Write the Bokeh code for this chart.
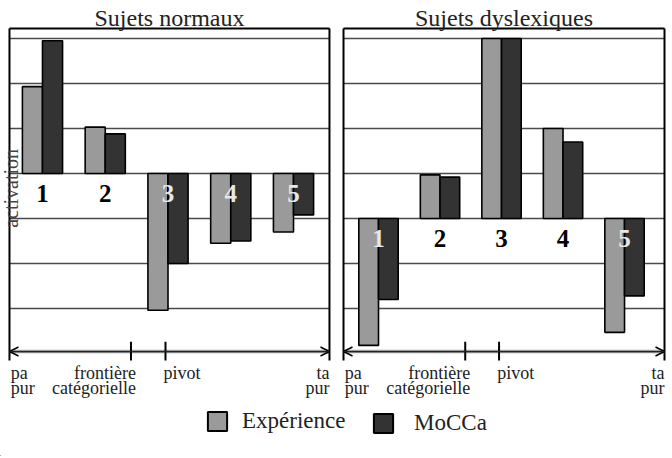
from bokeh.plotting import figure
from bokeh.models import Range1d, ColumnDataSource, Arrow, OpenHead, Legend, LegendItem
from bokeh.layouts import column, row
from bokeh.embed import file_html
from bokeh.resources import INLINE
from bokeh.core.properties import value

# Conditions along the pa -> ta continuum
conditions = [1, 2, 3, 4, 5]
condition_labels = ["1", "2", "3", "4", "5"]

# Activation per condition
normaux_experience = [1.93, 1.03, -3.04, -1.55, -1.30]
normaux_mocca = [2.95, 0.88, -2.00, -1.50, -0.92]
dyslexiques_experience = [-2.82, 0.97, 4.00, 2.00, -2.53]
dyslexiques_mocca = [-1.80, 0.92, 4.00, 1.70, -1.72]

titles = ["Sujets normaux", "Sujets dyslexiques"]
series_names = ["Expérience", "MoCCa"]
grid_normaux = [-3, -2, -1, 0, 1, 2, 3]
grid_dyslexiques = [-2, -1, 0, 1, 2, 3, 4]

# Landmarks on the continuum (in condition units)
frontiere_pos = 2.41
pivot_pos = 2.96
continuum_top = ["pa", "frontière", "pivot", "ta"]
continuum_bottom = ["pur", "catégorielle", "", "pur"]

EXP_COLOR = "#9a9a9a"
MOC_COLOR = "#333333"
FONT = "Liberation Serif"
SERIF = value(FONT)
BAR_W = 0.32
LABEL_Y = -0.44


def make_panel(title, exp, moc, grid_levels, x_rng, y_rng, edges, ylabel=None):
    p = figure(width=336, height=400, x_range=Range1d(*x_rng), y_range=Range1d(*y_rng),
               output_backend="svg", toolbar_location=None, min_border=0,
               min_border_left=0, min_border_right=0, min_border_top=0, min_border_bottom=0)
    p.outline_line_color = None
    p.axis.visible = False
    p.grid.visible = False
    p.background_fill_color = "white"
    p.border_fill_color = "white"

    left, right = edges
    top = y_rng[1] - 0.622
    arrow_y = y_rng[1] - 7.8

    # horizontal reference lines
    p.segment(x0=[left] * len(grid_levels), x1=[right] * len(grid_levels),
              y0=grid_levels, y1=grid_levels, line_color="#4a4a4a", line_width=1.4)
    # frame: top and sides
    p.segment(x0=[left], x1=[right], y0=[top], y1=[top], line_color="black", line_width=2)
    p.segment(x0=[left, right], x1=[left, right], y0=[top, top],
              y1=[arrow_y - 0.2, arrow_y - 0.2], line_color="black", line_width=2)

    src = ColumnDataSource(dict(
        xe=[c - BAR_W / 2 for c in conditions],
        xm=[c + BAR_W / 2 for c in conditions],
        exp=exp, moc=moc))
    p.vbar(x="xe", top="exp", bottom=0, width=BAR_W, source=src,
           fill_color=EXP_COLOR, line_color="black", line_width=1.6)
    p.vbar(x="xm", top="moc", bottom=0, width=BAR_W, source=src,
           fill_color=MOC_COLOR, line_color="black", line_width=1.6)

    # condition numbers, light where a bar lies underneath
    colors = ["#e8e8e8" if min(e, m) < LABEL_Y else "black" for e, m in zip(exp, moc)]
    p.text(x=conditions, y=[LABEL_Y] * 5, text=condition_labels, text_color=colors,
           text_font=SERIF, text_font_size="25px", text_font_style="bold",
           text_align="center", text_baseline="middle")

    # continuum arrow with landmarks (hatched rule)
    p.add_layout(Arrow(start=OpenHead(size=9, line_width=1.5), end=OpenHead(size=9, line_width=1.5),
                       x_start=left, x_end=right, y_start=arrow_y, y_end=arrow_y,
                       line_color="#222222", line_width=1.2))
    p.segment(x0=[left], x1=[right], y0=[arrow_y], y1=[arrow_y],
              line_color="#3a3a3a", line_width=3.5, line_dash="1 1")
    p.segment(x0=[frontiere_pos, pivot_pos], x1=[frontiere_pos, pivot_pos],
              y0=[arrow_y + 0.22] * 2, y1=[arrow_y - 0.2] * 2,
              line_color="black", line_width=2)

    xs = [left + 0.02, frontiere_pos + 0.08, pivot_pos - 0.03, right]
    aligns = ["left", "right", "left", "right"]
    for txt, dy in ((continuum_top, 0.467), (continuum_bottom, 0.8)):
        for x, t, a in zip(xs, txt, aligns):
            if t:
                p.text(x=[x], y=[arrow_y - dy], text=[t], text_font=SERIF,
                       text_font_size="18px", text_align=a, text_baseline="middle",
                       text_color="#222222")

    p.text(x=[(left + right) / 2], y=[y_rng[1] - 17 / 45], text=[title], text_font=SERIF,
           text_font_size="24px", text_align="center", text_baseline="middle",
           text_color="#222222")

    if ylabel:
        p.text(x=[left + 0.03], y=[-0.33], text=[ylabel], angle=1.5708, text_font=SERIF,
               text_font_size="20px", text_align="center", text_baseline="middle",
               text_color="#444444")
    return p


p1 = make_panel(titles[0], normaux_experience, normaux_mocca, grid_normaux,
                (0.331, 5.685), (-5.044, 3.844), (0.474, 5.573), ylabel="activation")
p2 = make_panel(titles[1], dyslexiques_experience, dyslexiques_mocca, grid_dyslexiques,
                (0.317, 5.780), (-4.044, 4.844), (0.431, 5.650))

# legend strip (swatch renderers sit far outside the visible range)
pl = figure(width=672, height=56, x_range=Range1d(0, 1), y_range=Range1d(0, 1),
            output_backend="svg", toolbar_location=None, min_border=0,
            min_border_left=0, min_border_right=0, min_border_top=0, min_border_bottom=0)
pl.outline_line_color = None
pl.axis.visible = False
pl.grid.visible = False
r_exp = pl.vbar(x=[-50], top=[-50], bottom=[-51], width=0.1,
                fill_color=EXP_COLOR, line_color="black", line_width=2)
r_moc = pl.vbar(x=[-50], top=[-50], bottom=[-51], width=0.1,
                fill_color=MOC_COLOR, line_color="black", line_width=2)
for name, rend, loc, standoff in ((series_names[0], r_exp, (205, 22), 13),
                                  (series_names[1], r_moc, (371, 20), 19)):
    lg = Legend(items=[LegendItem(label=name, renderers=[rend])], location=loc,
                glyph_width=24, glyph_height=24, label_standoff=standoff,
                label_text_font=FONT, label_text_font_size="23px", label_text_color="#222222",
                padding=0, margin=0, border_line_color=None, background_fill_alpha=0)
    pl.add_layout(lg)

layout = column(row(p1, p2, spacing=0), pl, spacing=0)
open("out.html", "w").write(file_html(layout, INLINE))
